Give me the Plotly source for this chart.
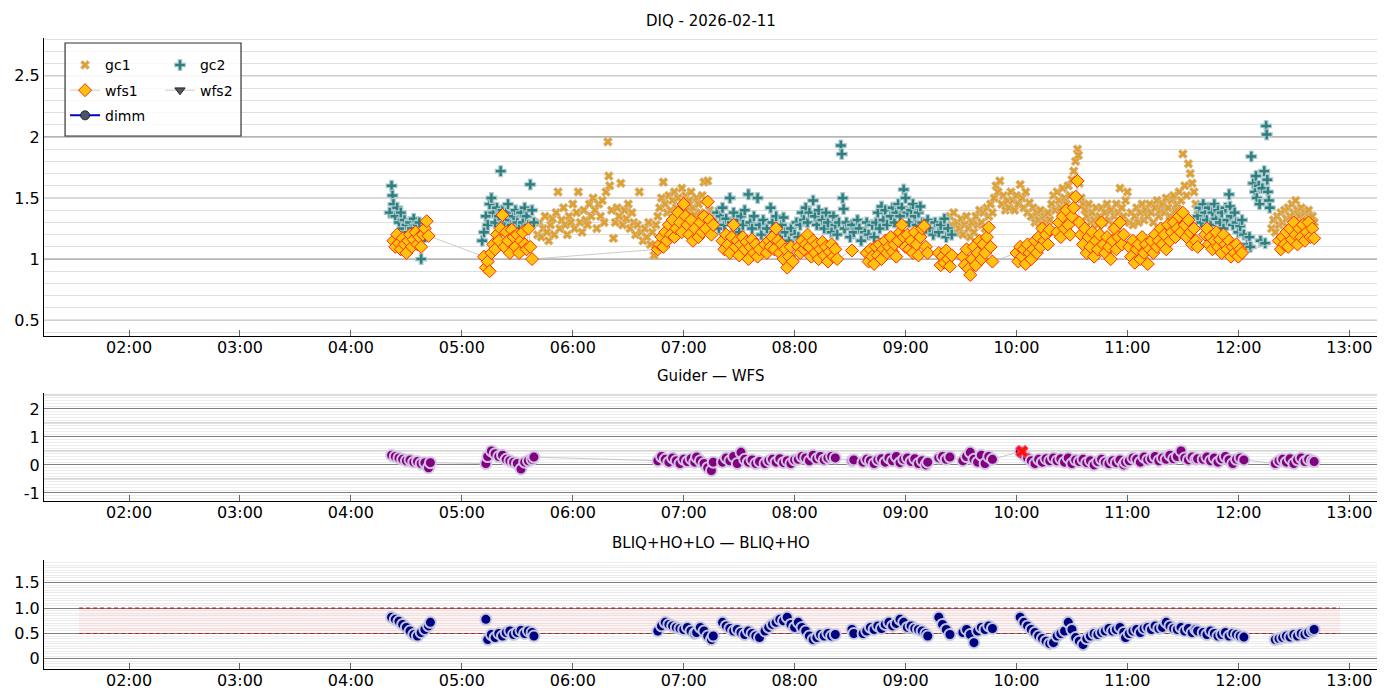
import plotly.graph_objects as go
from plotly.subplots import make_subplots

DATE = "2026-02-11"

# ---- top panel: DIQ ----
gc1 = [
    ("05:41", 1.20), ("05:42", 1.30), ("05:43", 1.18), ("05:44", 1.25), ("05:45", 1.35), ("05:46", 1.22),
    ("05:47", 1.15), ("05:48", 1.28), ("05:49", 1.33), ("05:50", 1.20), ("05:51", 1.38), ("05:52", 1.55),
    ("05:53", 1.25), ("05:54", 1.32), ("05:55", 1.42), ("05:56", 1.28), ("05:57", 1.20), ("05:58", 1.35),
    ("05:59", 1.30), ("06:00", 1.45), ("06:01", 1.25), ("06:02", 1.38), ("06:03", 1.55), ("06:04", 1.30),
    ("06:05", 1.22), ("06:06", 1.40), ("06:07", 1.32), ("06:08", 1.28), ("06:09", 1.45), ("06:10", 1.35),
    ("06:11", 1.50), ("06:12", 1.40), ("06:13", 1.25), ("06:14", 1.45), ("06:15", 1.35), ("06:16", 1.48),
    ("06:17", 1.30), ("06:18", 1.55), ("06:19", 1.96), ("06:19:30", 1.68), ("06:20", 1.60), ("06:21", 1.40),
    ("06:22", 1.17), ("06:23", 1.30), ("06:24", 1.42), ("06:25", 1.35), ("06:26", 1.62), ("06:27", 1.28),
    ("06:28", 1.40), ("06:29", 1.33), ("06:30", 1.45), ("06:31", 1.25), ("06:32", 1.38), ("06:33", 1.30),
    ("06:34", 1.20), ("06:35", 1.28), ("06:36", 1.55), ("06:37", 1.22), ("06:38", 1.15), ("06:39", 1.25),
    ("06:40", 1.18), ("06:41", 1.30), ("06:42", 1.12), ("06:43", 1.22), ("06:44", 1.03), ("06:45", 1.28),
    ("06:46", 1.35), ("06:47", 1.42), ("06:48", 1.50), ("06:49", 1.63), ("06:50", 1.45), ("06:51", 1.38),
    ("06:52", 1.52), ("06:53", 1.40), ("06:54", 1.48), ("06:55", 1.55), ("06:56", 1.42), ("06:57", 1.50),
    ("06:58", 1.38), ("06:59", 1.58), ("07:00", 1.45), ("07:01", 1.52), ("07:02", 1.40), ("07:03", 1.48),
    ("07:04", 1.55), ("07:05", 1.42), ("07:06", 1.36), ("07:07", 1.50), ("07:08", 1.45), ("07:09", 1.38),
    ("07:10", 1.52), ("07:11", 1.63), ("07:12", 1.48), ("07:13", 1.64), ("07:14", 1.40), ("07:15", 1.35),
    ("09:24", 1.35), ("09:25", 1.28), ("09:26", 1.38), ("09:27", 1.22), ("09:28", 1.30), ("09:29", 1.25),
    ("09:30", 1.33), ("09:31", 1.20), ("09:32", 1.28), ("09:33", 1.35), ("09:34", 1.25), ("09:35", 1.18),
    ("09:36", 1.30), ("09:37", 1.22), ("09:38", 1.35), ("09:39", 1.28), ("09:40", 1.40), ("09:41", 1.30),
    ("09:42", 1.38), ("09:43", 1.25), ("09:44", 1.42), ("09:45", 1.35), ("09:46", 1.45), ("09:47", 1.38),
    ("09:48", 1.50), ("09:49", 1.60), ("09:50", 1.55), ("09:51", 1.64), ("09:52", 1.45), ("09:53", 1.52),
    ("09:54", 1.40), ("09:55", 1.48), ("09:56", 1.42), ("09:57", 1.55), ("09:58", 1.48), ("09:59", 1.40),
    ("10:00", 1.52), ("10:01", 1.45), ("10:02", 1.61), ("10:03", 1.50), ("10:04", 1.42), ("10:05", 1.55),
    ("10:06", 1.38), ("10:07", 1.46), ("10:08", 1.35), ("10:09", 1.42), ("10:10", 1.30), ("10:11", 1.38),
    ("10:12", 1.32), ("10:13", 1.40), ("10:14", 1.28), ("10:15", 1.35), ("10:16", 1.30), ("10:17", 1.38),
    ("10:18", 1.32), ("10:19", 1.45), ("10:20", 1.52), ("10:21", 1.40), ("10:22", 1.55), ("10:23", 1.48),
    ("10:24", 1.42), ("10:25", 1.58), ("10:26", 1.50), ("10:27", 1.45), ("10:28", 1.60), ("10:29", 1.52),
    ("10:30", 1.65), ("10:31", 1.72), ("10:32", 1.80), ("10:33", 1.90), ("10:33:30", 1.85), ("10:34", 1.62),
    ("10:35", 1.50), ("10:36", 1.45), ("10:37", 1.40), ("10:38", 1.35), ("10:39", 1.45), ("10:40", 1.30),
    ("10:41", 1.38), ("10:42", 1.32), ("10:43", 1.42), ("10:44", 1.28), ("10:45", 1.35), ("10:46", 1.42),
    ("10:47", 1.30), ("10:48", 1.38), ("10:49", 1.45), ("10:50", 1.32), ("10:51", 1.40), ("10:52", 1.28),
    ("10:53", 1.35), ("10:54", 1.45), ("10:55", 1.38), ("10:56", 1.58), ("10:57", 1.42), ("10:58", 1.35),
    ("10:59", 1.48), ("11:00", 1.55), ("11:01", 1.30), ("11:02", 1.38), ("11:03", 1.28), ("11:04", 1.35),
    ("11:05", 1.42), ("11:06", 1.30), ("11:07", 1.38), ("11:08", 1.45), ("11:09", 1.32), ("11:10", 1.40),
    ("11:11", 1.35), ("11:12", 1.45), ("11:13", 1.38), ("11:14", 1.30), ("11:15", 1.42), ("11:16", 1.48),
    ("11:17", 1.35), ("11:18", 1.40), ("11:19", 1.45), ("11:20", 1.38), ("11:21", 1.50), ("11:22", 1.42),
    ("11:23", 1.35), ("11:24", 1.48), ("11:25", 1.52), ("11:26", 1.40), ("11:27", 1.45), ("11:28", 1.55),
    ("11:29", 1.48), ("11:30", 1.86), ("11:31", 1.60), ("11:32", 1.52), ("11:33", 1.78), ("11:34", 1.70),
    ("11:35", 1.62), ("11:36", 1.55), ("11:37", 1.45), ("11:38", 1.40),
    ("12:18", 1.25), ("12:19", 1.32), ("12:20", 1.22), ("12:21", 1.35), ("12:22", 1.28), ("12:23", 1.38),
    ("12:24", 1.30), ("12:25", 1.40), ("12:26", 1.33), ("12:27", 1.42), ("12:28", 1.35), ("12:29", 1.45),
    ("12:30", 1.38), ("12:31", 1.48), ("12:32", 1.40), ("12:33", 1.35), ("12:34", 1.42), ("12:35", 1.30),
    ("12:36", 1.38), ("12:37", 1.32), ("12:38", 1.40), ("12:39", 1.28), ("12:40", 1.35), ("12:41", 1.30),
]

gc2 = [
    ("04:21", 1.38), ("04:22", 1.60), ("04:22:30", 1.52), ("04:23", 1.45), ("04:24", 1.35), ("04:25", 1.42),
    ("04:26", 1.30), ("04:27", 1.38), ("04:28", 1.25), ("04:29", 1.32), ("04:30", 1.28), ("04:31", 1.22),
    ("04:32", 1.30), ("04:33", 1.25), ("04:34", 1.33), ("04:35", 1.20), ("04:36", 1.28), ("04:37", 1.30),
    ("04:38", 1.00), ("04:39", 1.22), ("04:40", 1.18),
    ("05:11", 1.15), ("05:12", 1.22), ("05:13", 1.35), ("05:14", 1.28), ("05:15", 1.45), ("05:16", 1.50),
    ("05:17", 1.38), ("05:18", 1.30), ("05:19", 1.42), ("05:20", 1.35), ("05:21", 1.72), ("05:22", 1.40),
    ("05:23", 1.30), ("05:24", 1.38), ("05:25", 1.45), ("05:26", 1.32), ("05:27", 1.28), ("05:28", 1.35),
    ("05:29", 1.40), ("05:30", 1.30), ("05:31", 1.25), ("05:32", 1.38), ("05:33", 1.30), ("05:34", 1.42),
    ("05:35", 1.35), ("05:36", 1.28), ("05:37", 1.61), ("05:38", 1.40), ("05:39", 1.30),
    ("07:17", 1.30), ("07:18", 1.38), ("07:19", 1.25), ("07:20", 1.35), ("07:21", 1.42), ("07:22", 1.28),
    ("07:23", 1.33), ("07:25", 1.50), ("07:26", 1.30), ("07:27", 1.38), ("07:28", 1.25), ("07:29", 1.32),
    ("07:30", 1.22), ("07:31", 1.35), ("07:32", 1.28), ("07:33", 1.40), ("07:35", 1.53), ("07:36", 1.30),
    ("07:37", 1.25), ("07:38", 1.35), ("07:40", 1.50), ("07:41", 1.28), ("07:42", 1.20), ("07:43", 1.32),
    ("07:45", 1.25), ("07:47", 1.42), ("07:48", 1.30), ("07:49", 1.22), ("07:50", 1.35), ("07:52", 1.18),
    ("07:53", 1.28), ("07:54", 1.34), ("07:55", 1.22), ("07:57", 1.15), ("07:58", 1.25), ("08:00", 1.20),
    ("08:01", 1.30), ("08:02", 1.18), ("08:03", 1.28), ("08:04", 1.38), ("08:05", 1.32), ("08:06", 1.42),
    ("08:07", 1.30), ("08:08", 1.38), ("08:10", 1.48), ("08:11", 1.35), ("08:12", 1.28), ("08:13", 1.40),
    ("08:15", 1.32), ("08:16", 1.25), ("08:17", 1.38), ("08:18", 1.30), ("08:20", 1.22), ("08:21", 1.35),
    ("08:22", 1.28), ("08:23", 1.20), ("08:24", 1.30), ("08:25", 1.93), ("08:25:30", 1.86), ("08:26", 1.50),
    ("08:26:30", 1.41), ("08:27", 1.25), ("08:28", 1.30), ("08:30", 1.18), ("08:31", 1.28), ("08:32", 1.22),
    ("08:34", 1.32), ("08:35", 1.25), ("08:36", 1.15), ("08:38", 1.22), ("08:39", 1.30), ("08:40", 1.20),
    ("08:42", 1.28), ("08:43", 1.18), ("08:44", 1.30), ("08:45", 1.38), ("08:46", 1.25), ("08:47", 1.43),
    ("08:48", 1.32), ("08:49", 1.40), ("08:50", 1.28), ("08:52", 1.35), ("08:53", 1.42), ("08:54", 1.30),
    ("08:55", 1.38), ("08:56", 1.45), ("08:57", 1.35), ("08:58", 1.42), ("08:59", 1.57), ("09:00", 1.50),
    ("09:01", 1.38), ("09:02", 1.30), ("09:03", 1.40), ("09:04", 1.45), ("09:05", 1.35), ("09:06", 1.28),
    ("09:07", 1.38), ("09:08", 1.43), ("09:09", 1.30), ("09:10", 1.22), ("09:12", 1.32), ("09:13", 1.25),
    ("09:15", 1.20), ("09:16", 1.30), ("09:18", 1.22), ("09:19", 1.28), ("09:21", 1.33), ("09:22", 1.18),
    ("09:23", 1.25), ("09:25", 1.20),
    ("11:38", 1.35), ("11:39", 1.42), ("11:40", 1.30), ("11:41", 1.45), ("11:42", 1.38), ("11:43", 1.32),
    ("11:44", 1.42), ("11:45", 1.28), ("11:46", 1.38), ("11:47", 1.45), ("11:48", 1.33), ("11:49", 1.40),
    ("11:50", 1.30), ("11:51", 1.38), ("11:52", 1.25), ("11:53", 1.42), ("11:54", 1.32), ("11:55", 1.53),
    ("11:55:30", 1.43), ("11:56", 1.35), ("11:57", 1.28), ("11:58", 1.38), ("11:59", 1.30), ("12:00", 1.22),
    ("12:01", 1.27), ("12:02", 1.32), ("12:03", 1.20),
    ("12:05", 1.12), ("12:06", 1.18), ("12:06:30", 1.10), ("12:07", 1.84), ("12:08", 1.62), ("12:09", 1.55),
    ("12:09:30", 1.68), ("12:10", 1.50), ("12:11", 1.60), ("12:11:30", 1.45), ("12:12", 1.15), ("12:13", 1.58),
    ("12:14", 1.72), ("12:14:30", 1.13), ("12:15", 2.09), ("12:15:20", 2.02), ("12:15:40", 1.65), ("12:16", 1.55),
    ("12:16:30", 1.48), ("12:17", 1.42),
]

wfs1 = [
    ("04:23", 1.15), ("04:24", 1.10), ("04:25", 1.20), ("04:26", 1.13), ("04:27", 1.08), ("04:28", 1.17),
    ("04:29", 1.12), ("04:30", 1.05), ("04:31", 1.15), ("04:32", 1.20), ("04:33", 1.10), ("04:34", 1.16),
    ("04:35", 1.22), ("04:36", 1.12), ("04:37", 1.18), ("04:38", 1.10), ("04:39", 1.20), ("04:40", 1.25),
    ("04:41", 1.31), ("04:42", 1.19),
    ("05:12", 1.02), ("05:13", 0.93), ("05:14", 0.98), ("05:15", 0.90), ("05:16", 1.05), ("05:17", 1.12),
    ("05:18", 1.08), ("05:19", 1.20), ("05:20", 1.15), ("05:21", 1.25), ("05:22", 1.36), ("05:23", 1.10),
    ("05:24", 1.22), ("05:25", 1.15), ("05:26", 1.05), ("05:27", 1.24), ("05:28", 1.18), ("05:29", 1.10),
    ("05:30", 1.20), ("05:31", 1.05), ("05:32", 1.15), ("05:33", 1.22), ("05:34", 1.12), ("05:35", 1.08),
    ("05:36", 1.25), ("05:37", 1.10), ("05:38", 1.00),
    ("06:46", 1.08), ("06:47", 1.12), ("06:48", 1.18), ("06:49", 1.10), ("06:50", 1.22), ("06:51", 1.15),
    ("06:52", 1.28), ("06:53", 1.20), ("06:54", 1.32), ("06:55", 1.18), ("06:56", 1.25), ("06:57", 1.38),
    ("06:58", 1.30), ("06:59", 1.22), ("07:00", 1.45), ("07:01", 1.35), ("07:02", 1.28), ("07:03", 1.20),
    ("07:04", 1.32), ("07:05", 1.15), ("07:06", 1.25), ("07:08", 1.18), ("07:09", 1.30), ("07:10", 1.22),
    ("07:11", 1.35), ("07:12", 1.25), ("07:13", 1.47), ("07:14", 1.32), ("07:15", 1.20), ("07:16", 1.28),
    ("07:21", 1.15), ("07:22", 1.08), ("07:23", 1.20), ("07:24", 1.12), ("07:25", 1.05), ("07:26", 1.18),
    ("07:27", 1.28), ("07:28", 1.10), ("07:29", 1.15), ("07:30", 1.03), ("07:31", 1.12), ("07:32", 1.18),
    ("07:33", 1.08), ("07:34", 1.14), ("07:35", 1.00), ("07:36", 1.10), ("07:37", 1.16), ("07:38", 1.05),
    ("07:39", 1.12), ("07:40", 1.02), ("07:41", 1.08),
    ("07:44", 1.12), ("07:45", 1.05), ("07:46", 1.15), ("07:47", 1.10), ("07:48", 1.18), ("07:49", 1.08),
    ("07:50", 1.25), ("07:51", 1.15), ("07:52", 1.05), ("07:53", 1.12), ("07:54", 1.00), ("07:55", 1.08),
    ("07:56", 0.93), ("07:57", 1.02), ("07:58", 1.10), ("07:59", 0.98),
    ("08:02", 1.10), ("08:03", 1.05), ("08:04", 1.15), ("08:05", 1.08), ("08:06", 1.12), ("08:07", 1.20),
    ("08:08", 1.10), ("08:09", 1.02), ("08:10", 1.15), ("08:11", 1.05), ("08:12", 1.12), ("08:13", 1.00),
    ("08:14", 1.08), ("08:15", 1.14), ("08:16", 1.03), ("08:17", 1.10), ("08:18", 0.98), ("08:19", 1.06),
    ("08:20", 1.12), ("08:21", 1.02), ("08:22", 1.08), ("08:23", 1.00),
    ("08:31", 1.07),
    ("08:39", 1.05), ("08:40", 0.98), ("08:41", 1.08), ("08:42", 1.02), ("08:43", 0.96), ("08:44", 1.10),
    ("08:45", 1.03), ("08:46", 1.12), ("08:47", 1.00), ("08:48", 1.08), ("08:49", 1.15), ("08:50", 1.05),
    ("08:51", 1.10), ("08:52", 1.18), ("08:53", 1.06), ("08:54", 1.12), ("08:55", 1.02), ("08:56", 1.15),
    ("08:57", 1.22), ("08:58", 1.28), ("08:59", 1.18), ("09:00", 1.10), ("09:01", 1.20), ("09:02", 1.08),
    ("09:03", 1.15), ("09:04", 1.05), ("09:05", 1.22), ("09:06", 1.12), ("09:07", 1.03), ("09:08", 1.18),
    ("09:09", 1.25), ("09:10", 1.27), ("09:11", 1.10), ("09:12", 1.05),
    ("09:18", 1.05), ("09:19", 0.95), ("09:20", 1.02), ("09:21", 0.97), ("09:22", 1.07), ("09:23", 1.00),
    ("09:24", 0.94), ("09:25", 1.03),
    ("09:31", 1.02), ("09:32", 0.95), ("09:33", 1.08), ("09:34", 0.92), ("09:35", 0.87), ("09:36", 1.00),
    ("09:37", 1.10), ("09:38", 0.95), ("09:39", 1.05), ("09:40", 1.15), ("09:41", 1.00), ("09:42", 1.12),
    ("09:43", 1.05), ("09:44", 1.18), ("09:45", 1.26), ("09:46", 1.10), ("09:47", 0.98),
    ("10:00", 1.05), ("10:01", 0.98), ("10:02", 1.10), ("10:03", 1.02), ("10:04", 1.08), ("10:05", 0.96),
    ("10:06", 1.12), ("10:07", 1.05), ("10:08", 1.00), ("10:09", 1.08), ("10:10", 1.15), ("10:11", 1.05),
    ("10:12", 1.18), ("10:13", 1.10), ("10:14", 1.25), ("10:15", 1.15), ("10:16", 1.20), ("10:17", 1.12),
    ("10:18", 1.24),
    ("10:22", 1.22), ("10:23", 1.30), ("10:24", 1.18), ("10:25", 1.35), ("10:26", 1.25), ("10:27", 1.40),
    ("10:28", 1.28), ("10:29", 1.20), ("10:30", 1.35), ("10:31", 1.42), ("10:32", 1.51), ("10:33", 1.64),
    ("10:34", 1.30), ("10:35", 1.20), ("10:36", 1.12), ("10:37", 1.25), ("10:38", 1.05), ("10:39", 1.18),
    ("10:40", 1.10), ("10:41", 1.22), ("10:42", 1.02), ("10:43", 1.15), ("10:44", 1.08), ("10:45", 1.20),
    ("10:46", 1.30), ("10:47", 1.12), ("10:48", 1.05), ("10:49", 1.18), ("10:50", 1.10), ("10:51", 1.00),
    ("10:52", 1.15), ("10:53", 1.25), ("10:54", 1.08), ("10:55", 1.18), ("10:56", 1.30), ("10:57", 1.12),
    ("10:58", 1.20),
    ("11:01", 1.10), ("11:02", 1.02), ("11:03", 1.15), ("11:04", 0.97), ("11:05", 1.08), ("11:06", 1.12),
    ("11:07", 1.00), ("11:08", 1.18), ("11:09", 1.05), ("11:10", 1.12), ("11:11", 0.96), ("11:12", 1.08),
    ("11:13", 1.15), ("11:14", 1.05), ("11:15", 1.20), ("11:16", 1.10), ("11:17", 1.15), ("11:18", 1.25),
    ("11:19", 1.12), ("11:20", 1.20), ("11:21", 1.08), ("11:22", 1.28), ("11:23", 1.15), ("11:24", 1.22),
    ("11:25", 1.30), ("11:26", 1.18), ("11:27", 1.25), ("11:28", 1.35), ("11:29", 1.22), ("11:30", 1.38),
    ("11:31", 1.28), ("11:32", 1.18), ("11:33", 1.32), ("11:34", 1.22), ("11:35", 1.12), ("11:36", 1.25),
    ("11:37", 1.15), ("11:38", 1.10),
    ("11:42", 1.20), ("11:43", 1.25), ("11:44", 1.12), ("11:45", 1.18), ("11:46", 1.08), ("11:47", 1.15),
    ("11:48", 1.22), ("11:49", 1.10), ("11:50", 1.16), ("11:51", 1.05), ("11:52", 1.20), ("11:53", 1.12),
    ("11:54", 1.08), ("11:55", 1.15), ("11:56", 1.02), ("11:57", 1.10), ("11:58", 1.05), ("11:59", 1.12),
    ("12:00", 1.02), ("12:01", 1.08), ("12:02", 1.05),
    ("12:22", 1.15), ("12:23", 1.08), ("12:24", 1.18), ("12:25", 1.12), ("12:26", 1.22), ("12:27", 1.10),
    ("12:28", 1.25), ("12:29", 1.16), ("12:30", 1.30), ("12:31", 1.20), ("12:32", 1.12), ("12:33", 1.25),
    ("12:34", 1.18), ("12:35", 1.28), ("12:36", 1.15), ("12:37", 1.22), ("12:38", 1.30), ("12:39", 1.18),
    ("12:40", 1.25), ("12:41", 1.17),
]

# no wfs2 / dimm samples this night (kept for the legend)
wfs2 = []
dimm = []

# ---- lower panels share the same sample times ----
iq_times = [
    "04:22", "04:24", "04:26", "04:28", "04:30", "04:32", "04:34", "04:36", "04:38", "04:40", "04:42", "04:43",
    "05:13", "05:14", "05:16", "05:18", "05:20", "05:22", "05:24", "05:26", "05:28", "05:30", "05:32", "05:34", "05:36", "05:38", "05:39",
    "06:46", "06:48", "06:50", "06:52", "06:54", "06:56", "06:58", "07:00", "07:02", "07:04", "07:06", "07:07",
    "07:09", "07:11", "07:13", "07:15", "07:16",
    "07:21", "07:23", "07:25", "07:27", "07:29", "07:31", "07:33", "07:35", "07:37", "07:39", "07:41",
    "07:44", "07:46", "07:48", "07:50", "07:52", "07:54", "07:56", "07:58", "08:00",
    "08:02", "08:04", "08:06", "08:08", "08:10", "08:12", "08:14", "08:16", "08:18", "08:20", "08:22",
    "08:31", "08:32",
    "08:37", "08:39", "08:41", "08:43", "08:45", "08:47", "08:49", "08:51", "08:53", "08:55", "08:57", "08:59", "09:01", "09:03", "09:05", "09:07", "09:09", "09:11", "09:12",
    "09:18", "09:20", "09:22", "09:24",
    "09:31", "09:33", "09:35", "09:37", "09:39", "09:41", "09:43", "09:45", "09:47",
    "10:02", "10:04", "10:06", "10:08", "10:10", "10:12", "10:14", "10:16", "10:18", "10:20",
    "10:22", "10:24", "10:26", "10:28", "10:30", "10:32", "10:34", "10:36", "10:38", "10:40", "10:42", "10:44", "10:46", "10:48", "10:50", "10:52", "10:54", "10:56", "10:58", "10:59",
    "11:01", "11:03", "11:05", "11:07", "11:09", "11:11", "11:13", "11:15", "11:17", "11:19", "11:21", "11:23", "11:25", "11:27", "11:29", "11:31", "11:33", "11:35", "11:37", "11:38",
    "11:41", "11:43", "11:45", "11:47", "11:49", "11:51", "11:53", "11:55", "11:57", "11:59", "12:01", "12:03",
    "12:20", "12:22", "12:24", "12:26", "12:28", "12:30", "12:32", "12:34", "12:36", "12:38", "12:40", "12:41",
]

guider_minus_wfs = [
    0.35, 0.30, 0.25, 0.20, 0.15, 0.18, 0.10, 0.12, 0.05, 0.08, -0.10, 0.08,
    0.05, 0.30, 0.50, 0.40, 0.30, 0.35, 0.20, 0.15, 0.10, 0.05, -0.15, 0.10, 0.15, 0.20, 0.28,
    0.15, 0.30, 0.20, 0.10, 0.25, 0.15, 0.05, 0.20, 0.12, 0.22, 0.10, 0.28,
    0.15, 0.05, -0.10, -0.20, 0.10,
    0.10, 0.25, 0.15, 0.30, 0.05, 0.45, 0.20, 0.10, 0.18, 0.05, 0.12,
    0.05, 0.15, 0.20, 0.10, 0.22, 0.08, 0.15, 0.05, 0.18,
    0.20, 0.30, 0.25, 0.15, 0.35, 0.22, 0.30, 0.18, 0.25, 0.30, 0.25,
    0.15, 0.18,
    0.10, 0.20, 0.15, 0.05, 0.18, 0.22, 0.10, 0.25, 0.15, 0.30, 0.08, 0.20, 0.25, 0.12, 0.22, 0.05, 0.15, 0.00, 0.10,
    0.25, 0.30, 0.20, 0.28,
    0.15, 0.30, 0.45, 0.20, 0.10, 0.35, 0.05, 0.30, 0.20,
    0.48, 0.35, 0.25, 0.15, 0.05, 0.20, 0.10, 0.22, 0.15, 0.25,
    0.15, 0.22, 0.10, 0.25, 0.05, 0.18, 0.12, 0.20, 0.08, 0.15, 0.00, 0.12, 0.20, 0.10, 0.05, 0.15, 0.08, 0.18, 0.00, 0.10,
    0.15, 0.25, 0.20, 0.10, 0.28, 0.18, 0.22, 0.30, 0.15, 0.25, 0.20, 0.35, 0.22, 0.30, 0.50, 0.25, 0.18, 0.28, 0.20, 0.22,
    0.20, 0.28, 0.15, 0.25, 0.10, 0.22, 0.30, 0.18, 0.05, 0.20, 0.25, 0.18,
    0.05, 0.15, 0.20, 0.10, 0.22, 0.05, 0.18, 0.25, 0.12, 0.20, 0.15, 0.12,
]

bliq_lo_minus_ho = [
    0.82, 0.78, 0.74, 0.68, 0.62, 0.55, 0.48, 0.45, 0.52, 0.58, 0.65, 0.72,
    0.78, 0.38, 0.48, 0.42, 0.50, 0.45, 0.52, 0.55, 0.48, 0.52, 0.56, 0.50, 0.55, 0.52, 0.45,
    0.55, 0.65, 0.72, 0.68, 0.65, 0.62, 0.60, 0.58, 0.62, 0.55, 0.50, 0.52,
    0.62, 0.55, 0.45, 0.38, 0.45,
    0.72, 0.65, 0.60, 0.55, 0.58, 0.52, 0.48, 0.55, 0.50, 0.45, 0.42,
    0.55, 0.62, 0.68, 0.72, 0.78, 0.75, 0.82, 0.68, 0.62,
    0.72, 0.62, 0.55, 0.45, 0.38, 0.42, 0.48, 0.45, 0.50, 0.45, 0.48,
    0.58, 0.50,
    0.50, 0.55, 0.62, 0.58, 0.65, 0.60, 0.68, 0.72, 0.65, 0.70, 0.78, 0.72, 0.62, 0.65, 0.60, 0.58, 0.55, 0.50, 0.45,
    0.82, 0.68, 0.58, 0.48,
    0.52, 0.58, 0.48, 0.32, 0.55, 0.62, 0.58, 0.65, 0.60,
    0.82, 0.72, 0.65, 0.58, 0.52, 0.45, 0.40, 0.35, 0.30, 0.32,
    0.45, 0.50, 0.55, 0.72, 0.58, 0.42, 0.35, 0.28, 0.40, 0.45, 0.50, 0.48, 0.52, 0.55, 0.60, 0.55, 0.58, 0.62, 0.52, 0.42,
    0.50, 0.55, 0.58, 0.52, 0.60, 0.62, 0.58, 0.65, 0.60, 0.62, 0.72, 0.65, 0.60, 0.58, 0.62, 0.55, 0.60, 0.52, 0.58, 0.55,
    0.52, 0.48, 0.55, 0.50, 0.45, 0.48, 0.52, 0.45, 0.50, 0.48, 0.45, 0.43,
    0.38, 0.40, 0.42, 0.45, 0.43, 0.48, 0.45, 0.50, 0.48, 0.52, 0.55, 0.58,
]

# flagged guider sample
guider_flag = [("10:03", 0.48)]

# expected BLIQ+HO+LO - BLIQ+HO range
band_times = ["01:33", "12:55"]
band_low = 0.5
band_high = 1.0

HOURS = ["02:00", "03:00", "04:00", "05:00", "06:00", "07:00",
         "08:00", "09:00", "10:00", "11:00", "12:00", "13:00"]

assert len(iq_times) == len(guider_minus_wfs) == len(bliq_lo_minus_ho)


def ts(t):
    return f"{DATE} {t}"


def unpack(pairs):
    if not pairs:
        # placeholder so the legend still gets an entry
        return [None], [None]
    return [ts(t) for t, _ in pairs], [v for _, v in pairs]


def grid_steps(lo, hi, step, skip):
    # faint grid positions, leaving out levels drawn separately
    out = []
    n = int(round((hi - lo) / step))
    for i in range(n + 1):
        v = round(lo + i * step, 3)
        if all(abs(v - s) > 1e-6 for s in skip):
            out.append(v)
    return out


FONT = "DejaVu Sans"
DOM_TOP = [0.5277, 1.0]
DOM_MID = [0.2662, 0.4374]
DOM_BOT = [0.0, 0.1727]

fig = make_subplots(rows=3, cols=1)

# top panel
x, y = unpack(gc1)
fig.add_trace(go.Scatter(
    x=x, y=y, mode="markers", name="gc1", legendgroup="gc1", legend="legend",
    marker=dict(symbol="x", size=8, color="#E0A030",
                line=dict(color="rgba(214,190,150,0.95)", width=1)),
), row=1, col=1)

x, y = unpack(gc2)
fig.add_trace(go.Scatter(
    x=x, y=y, mode="markers", name="gc2", legendgroup="gc2", legend="legend2",
    marker=dict(symbol="cross", size=9, color="#2E7F80",
                line=dict(color="rgba(176,203,208,0.95)", width=1.2)),
), row=1, col=1)

x, y = unpack(wfs1)
fig.add_trace(go.Scatter(
    x=x, y=y, mode="lines+markers", name="wfs1", legendgroup="wfs1", legend="legend",
    line=dict(color="rgba(190,190,190,0.8)", width=1),
    marker=dict(symbol="diamond", size=10, color="#FFC20E",
                line=dict(color="#FF2A00", width=1)),
), row=1, col=1)

x, y = unpack(wfs2)
fig.add_trace(go.Scatter(
    x=x, y=y, mode="lines+markers", name="wfs2", legendgroup="wfs2", legend="legend2",
    line=dict(color="rgba(190,190,190,0.8)", width=1),
    marker=dict(symbol="triangle-down", size=9, color="#55556A",
                line=dict(color="#222", width=1)),
), row=1, col=1)

x, y = unpack(dimm)
fig.add_trace(go.Scatter(
    x=x, y=y, mode="lines+markers", name="dimm", legendgroup="dimm", legend="legend",
    line=dict(color="#0000CC", width=2),
    marker=dict(symbol="circle", size=9, color="#4B5270",
                line=dict(color="#222", width=1)),
), row=1, col=1)

# middle panel: Guider - WFS
iq_x = [ts(t) for t in iq_times]
fig.add_trace(go.Scatter(
    x=iq_x, y=guider_minus_wfs, mode="lines+markers", showlegend=False,
    line=dict(color="rgba(185,185,185,0.8)", width=1),
    marker=dict(symbol="circle", size=11, color="#800080",
                line=dict(color="rgba(215,200,228,0.95)", width=2)),
), row=2, col=1)

x, y = unpack(guider_flag)
fig.add_trace(go.Scatter(
    x=x, y=y, mode="markers", showlegend=False,
    marker=dict(symbol="x", size=11, color="#FF1010", line=dict(color="#FF6060", width=1)),
), row=2, col=1)

# bottom panel: band + BLIQ differences
band_x = [ts(t) for t in band_times]
fig.add_trace(go.Scatter(
    x=band_x, y=[band_low] * len(band_x), mode="lines", showlegend=False,
    line=dict(color="#B22222", width=1.2, dash="4px,3px"),
), row=3, col=1)
fig.add_trace(go.Scatter(
    x=band_x, y=[band_high] * len(band_x), mode="lines", showlegend=False,
    line=dict(color="#B22222", width=1.2, dash="4px,3px"),
    fill="tonexty", fillcolor="rgba(255,0,0,0.05)",
), row=3, col=1)
fig.add_trace(go.Scatter(
    x=iq_x, y=bliq_lo_minus_ho, mode="markers", showlegend=False,
    marker=dict(symbol="circle", size=11, color="#000080",
                line=dict(color="rgba(200,205,225,0.95)", width=2)),
), row=3, col=1)

# grid levels drawn as lines under the data
for yv in [0.5, 1.5, 2.5]:
    fig.add_hline(y=yv, row=1, col=1, line=dict(color="#b4b4b4", width=1), layer="below")
for yv in [1, 2]:
    fig.add_hline(y=yv, row=1, col=1, line=dict(color="#808080", width=1), layer="below")
for yv in [-0.5, 0.5, 1.5, 2.5]:
    fig.add_hline(y=yv, row=2, col=1, line=dict(color="#b8b8b8", width=1), layer="below")

xaxis_style = dict(
    type="date",
    range=[ts("01:14"), ts("13:15")],
    tickvals=[ts(h) for h in HOURS],
    ticktext=HOURS,
    ticks="inside", ticklen=6, tickcolor="#666",
    ticklabelstandoff=-3,
    showgrid=False, zeroline=False, automargin=False,
    showline=True, linecolor="black", linewidth=1.2,
    tickfont=dict(family=FONT, size=16, color="black"),
    domain=[0, 1],
)
for i in (1, 2, 3):
    fig.update_xaxes(xaxis_style, row=i, col=1)

yaxis_common = dict(
    showline=True, linecolor="black", linewidth=1.2,
    zeroline=False, ticks="", automargin=False,
    tickfont=dict(family=FONT, size=16, color="black"),
)
fig.update_yaxes(yaxis_common, row=1, col=1, domain=DOM_TOP, range=[0.37, 2.81],
                 tickvals=[0.5, 1, 1.5, 2, 2.5], ticktext=["0.5", "1", "1.5", "2", "2.5"],
                 showgrid=False,
                 minor=dict(tickvals=grid_steps(0.4, 2.8, 0.1, [0.5, 1, 1.5, 2, 2.5]),
                            ticks="", showgrid=True, gridcolor="#e0e0e0", gridwidth=1))
fig.update_yaxes(yaxis_common, row=2, col=1, domain=DOM_MID, range=[-1.29, 2.57],
                 tickvals=[-1, 0, 1, 2], ticktext=["-1", "0", "1", "2"],
                 gridcolor="#808080", gridwidth=1,
                 minor=dict(tickvals=grid_steps(-1.2, 2.5, 0.1, [-1, -0.5, 0, 0.5, 1, 1.5, 2, 2.5]),
                            ticks="", showgrid=True, gridcolor="#ededed", gridwidth=1))
fig.update_yaxes(yaxis_common, row=3, col=1, domain=DOM_BOT, range=[-0.2, 1.95],
                 tickvals=[0, 0.5, 1.0, 1.5], ticktext=["0", "0.5", "1.0", "1.5"],
                 gridcolor="#808080", gridwidth=1,
                 minor=dict(dtick=0.05, tick0=0, ticks="", showgrid=True, gridcolor="#ebebeb", gridwidth=1))

titles = [("DIQ - 2026-02-11", DOM_TOP[1]), ("Guider \u2014 WFS", DOM_MID[1]),
          ("BLIQ+HO+LO \u2014 BLIQ+HO", DOM_BOT[1])]
for text, ytop in titles:
    fig.add_annotation(text=text, x=0.5, y=ytop, xref="paper", yref="paper",
                       xanchor="center", yanchor="bottom", yshift=6, showarrow=False,
                       font=dict(family=FONT, size=15, color="black"))

# frame drawn around both legend columns
fig.add_shape(type="rect", xref="paper", yref="paper",
              x0=0.0158, x1=0.1478, y0=0.8447, y1=0.9921,
              line=dict(color="#333", width=1.2), fillcolor="rgba(255,255,255,0.8)",
              layer="above")

legend_common = dict(
    bgcolor="rgba(0,0,0,0)", borderwidth=0,
    font=dict(family=FONT, size=14, color="black"),
    tracegroupgap=4, yanchor="top", xanchor="left", traceorder="grouped",
)
fig.update_layout(
    legend=dict(legend_common, x=0.0158, y=0.982),
    legend2=dict(legend_common, x=0.087, y=0.982),
    # page body adds 8px around the plot, margins compensate for it
    margin=dict(l=36, r=15, t=30, b=23),
    plot_bgcolor="white",
    paper_bgcolor="white",
    font=dict(family=FONT, color="black"),
)

fig.write_html("out.html")
